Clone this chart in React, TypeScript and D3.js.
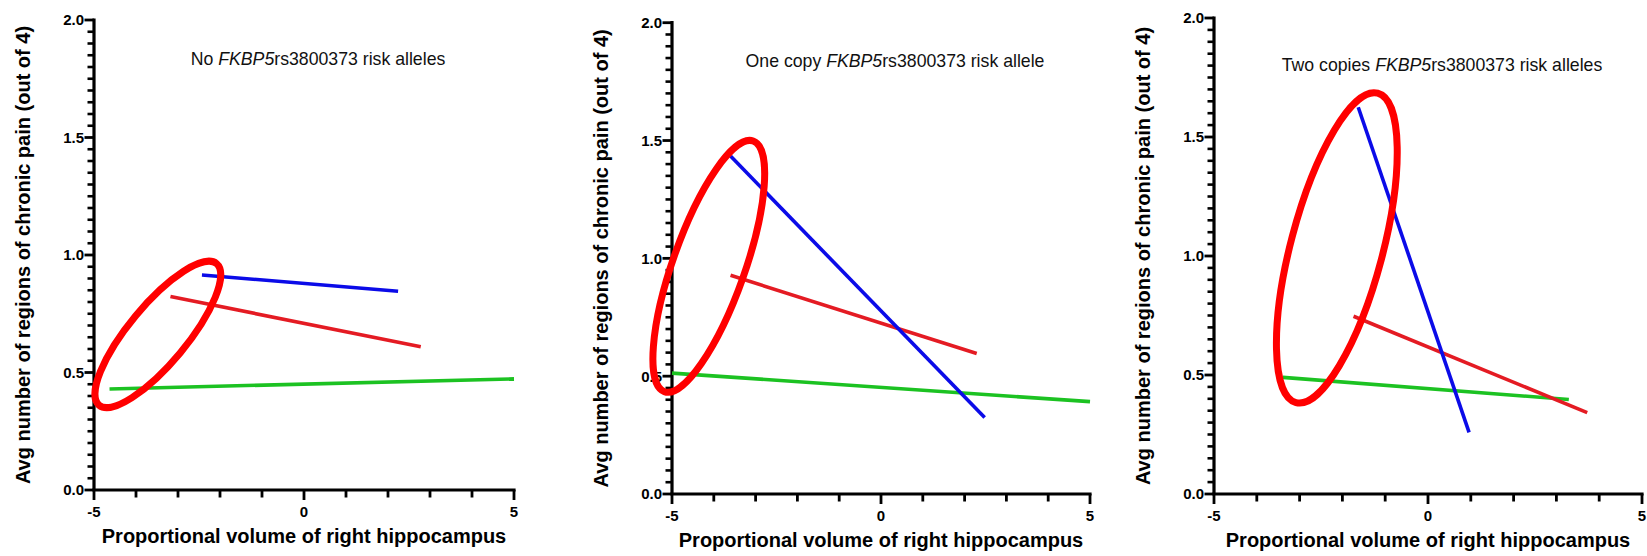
import React from "react";
import * as d3 from "d3";

// Panel subtitles: [prefix, italic gene name, suffix]
const panelTitles: [string, string, string][] = [
  ["No ", "FKBP5", "rs3800373 risk alleles"],
  ["One copy ", "FKBP5", "rs3800373 risk allele"],
  ["Two copies ", "FKBP5", "rs3800373 risk alleles"],
];

const xTickValues = [-5, 0, 5];
const yTickValues = [0, 0.5, 1.0, 1.5, 2.0];
const xDomain: [number, number] = [-5, 5];
const yDomain: [number, number] = [0, 2];

const xAxisTitle = "Proportional volume of right hippocampus";
const yAxisTitle = "Avg number of regions of chronic pain (out of 4)";

// Fitted regression segments per panel (start and end points)
const blueSeries = [
  [{ x: -2.43, y: 0.915 }, { x: 2.24, y: 0.846 }],
  [{ x: -3.6, y: 1.434 }, { x: 2.48, y: 0.325 }],
  [{ x: -1.63, y: 1.625 }, { x: 0.96, y: 0.259 }],
];
const redSeries = [
  [{ x: -3.18, y: 0.823 }, { x: 2.78, y: 0.61 }],
  [{ x: -3.6, y: 0.928 }, { x: 2.29, y: 0.596 }],
  [{ x: -1.74, y: 0.747 }, { x: 3.72, y: 0.342 }],
];
const greenSeries = [
  [{ x: -4.63, y: 0.43 }, { x: 5, y: 0.473 }],
  [{ x: -5, y: 0.513 }, { x: 5, y: 0.392 }],
  [{ x: -3.39, y: 0.49 }, { x: 3.29, y: 0.397 }],
];

// Centres of the highlighted regions, in data units
const highlightCenters = [
  { x: -3.48, y: 0.662 },
  { x: -4.12, y: 0.966 },
  { x: -2.13, y: 1.034 },
];

// Layout of each panel's plotting area (pixels)
const panelFrames = [
  { left: 94, right: 514, top: 20, bottom: 490, titleY: 65 },
  { left: 672, right: 1090, top: 22.7, bottom: 494, titleY: 67 },
  { left: 1214, right: 1642, top: 18, bottom: 494, titleY: 71 },
];
// Ellipse geometry (pixels / degrees)
const ellipseShapes = [
  { rx: 92, ry: 29, angle: 50.3 },
  { rx: 133, ry: 36, angle: 70.5 },
  { rx: 160, ry: 46, angle: 75.2 },
];

const FONT = "'Liberation Sans', Arial, Helvetica, sans-serif";
const COLORS = {
  blue: "#0b0be8",
  red: "#e41b23",
  green: "#1cc222",
  ring: "#ff0000",
  axis: "#000000",
};

function Panel({ index }: { index: number }) {
  const f = panelFrames[index];
  const x = d3.scaleLinear().domain(xDomain).range([f.left, f.right]);
  const y = d3.scaleLinear().domain(yDomain).range([f.bottom, f.top]);
  const line = d3
    .line<{ x: number; y: number }>()
    .x((d) => x(d.x))
    .y((d) => y(d.y));

  // minor ticks every 0.05 on y, skipping the labelled ones
  const yMinor = d3.range(1, 40).filter((i) => i % 10 !== 0).map((i) => i * 0.05);
  const xAll = d3.range(-5, 6, 1);
  const [pre, ital, post] = panelTitles[index];
  const c = highlightCenters[index];
  const e = ellipseShapes[index];
  const cx = x(c.x);
  const cy = y(c.y);
  const midX = (f.left + f.right) / 2;

  return (
    <g>
      {/* y axis title */}
      <text
        transform={`translate(${f.left - 64},${(f.top + f.bottom) / 2}) rotate(-90)`}
        textAnchor="middle"
        fontFamily={FONT}
        fontWeight="bold"
        fontSize={20}
        fill="#000"
      >
        {yAxisTitle}
      </text>
      {/* x axis title */}
      <text
        x={midX}
        y={f.bottom + 53}
        textAnchor="middle"
        fontFamily={FONT}
        fontWeight="bold"
        fontSize={20}
        fill="#000"
      >
        {xAxisTitle}
      </text>
      {/* panel subtitle */}
      <text
        x={midX + 14}
        y={f.titleY}
        textAnchor="middle"
        fontFamily={FONT}
        fontSize={17.7}
        fill="#111"
      >
        {pre}
        <tspan fontStyle="italic">{ital}</tspan>
        {post}
      </text>

      {/* y axis */}
      <line x1={f.left} x2={f.left} y1={y(2) - 1.6} y2={f.bottom} stroke={COLORS.axis} strokeWidth={3.2} />
      {yMinor.map((v) => (
        <line key={`ym${v}`} x1={f.left - 6.5} x2={f.left} y1={y(v)} y2={y(v)} stroke={COLORS.axis} strokeWidth={2.6} />
      ))}
      {yTickValues.map((v) => (
        <g key={`yt${v}`}>
          <line x1={f.left - 9.5} x2={f.left} y1={y(v)} y2={y(v)} stroke={COLORS.axis} strokeWidth={2.8} />
          <text
            x={f.left - 10}
            y={y(v)}
            dy="0.36em"
            textAnchor="end"
            fontFamily={FONT}
            fontWeight="bold"
            fontSize={15}
            fill="#000"
          >
            {v.toFixed(1)}
          </text>
        </g>
      ))}

      {/* x axis */}
      <line x1={f.left - 1.6} x2={f.right + 1.6} y1={f.bottom} y2={f.bottom} stroke={COLORS.axis} strokeWidth={3.2} />
      {xAll.map((v) => {
        const major = xTickValues.includes(v);
        return (
          <line
            key={`xt${v}`}
            x1={x(v)}
            x2={x(v)}
            y1={f.bottom}
            y2={f.bottom + (major ? 10 : 7.5)}
            stroke={COLORS.axis}
            strokeWidth={2.8}
          />
        );
      })}
      {xTickValues.map((v) => (
        <text
          key={`xl${v}`}
          x={x(v)}
          y={f.bottom + 27}
          textAnchor="middle"
          fontFamily={FONT}
          fontWeight="bold"
          fontSize={15}
          fill="#000"
        >
          {String(v)}
        </text>
      ))}

      {/* regression lines */}
      <path d={line(greenSeries[index]) ?? ""} stroke={COLORS.green} strokeWidth={3.6} fill="none" />
      <path d={line(redSeries[index]) ?? ""} stroke={COLORS.red} strokeWidth={3.6} fill="none" />
      <path d={line(blueSeries[index]) ?? ""} stroke={COLORS.blue} strokeWidth={3.6} fill="none" />

      {/* highlighted region */}
      <ellipse
        cx={cx}
        cy={cy}
        rx={e.rx}
        ry={e.ry}
        transform={`rotate(${-e.angle} ${cx} ${cy})`}
        fill="none"
        stroke={COLORS.ring}
        strokeWidth={7}
      />
    </g>
  );
}

export default function App() {
  return (
    <svg
      width={1647}
      height={556}
      viewBox="0 0 1647 556"
      style={{ position: "absolute", left: 0, top: 0, background: "#fff", display: "block" }}
    >
      <rect width={1647} height={556} fill="#fff" />
      {panelFrames.map((_, i) => (
        <Panel key={i} index={i} />
      ))}
    </svg>
  );
}
